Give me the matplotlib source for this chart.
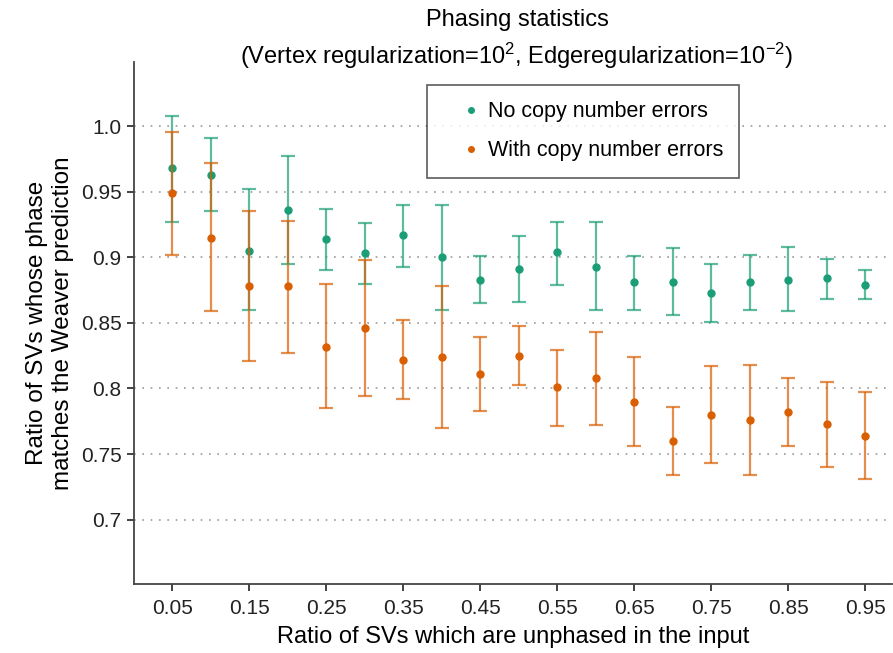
import numpy as np
import matplotlib
matplotlib.use("Agg")
import matplotlib.pyplot as plt

plt.rcParams['font.family'] = ['Liberation Sans', 'DejaVu Sans']
plt.rcParams['mathtext.default'] = 'regular'

# data
ratios = [0.05, 0.10, 0.15, 0.20, 0.25, 0.30, 0.35, 0.40, 0.45, 0.50,
          0.55, 0.60, 0.65, 0.70, 0.75, 0.80, 0.85, 0.90, 0.95]

no_err_mean = [0.968, 0.963, 0.905, 0.936, 0.914, 0.903, 0.917, 0.900, 0.883, 0.891,
               0.904, 0.893, 0.881, 0.881, 0.873, 0.881, 0.883, 0.884, 0.879]
no_err_low = [0.927, 0.935, 0.860, 0.895, 0.890, 0.880, 0.893, 0.860, 0.865, 0.866,
              0.879, 0.860, 0.860, 0.856, 0.851, 0.860, 0.859, 0.868, 0.868]
no_err_high = [1.008, 0.991, 0.952, 0.977, 0.937, 0.926, 0.940, 0.940, 0.901, 0.916,
               0.927, 0.927, 0.901, 0.907, 0.895, 0.902, 0.908, 0.899, 0.890]

cn_err_mean = [0.949, 0.915, 0.878, 0.878, 0.832, 0.846, 0.822, 0.824, 0.811, 0.825,
               0.801, 0.808, 0.790, 0.760, 0.780, 0.776, 0.782, 0.773, 0.764]
cn_err_low = [0.902, 0.859, 0.821, 0.827, 0.785, 0.794, 0.792, 0.770, 0.783, 0.803,
              0.771, 0.772, 0.756, 0.734, 0.743, 0.734, 0.756, 0.740, 0.731]
cn_err_high = [0.996, 0.972, 0.935, 0.928, 0.880, 0.898, 0.852, 0.878, 0.839, 0.848,
               0.829, 0.843, 0.824, 0.786, 0.817, 0.818, 0.808, 0.805, 0.797]

x_ticks = [0.05, 0.15, 0.25, 0.35, 0.45, 0.55, 0.65, 0.75, 0.85, 0.95]
y_ticks = [0.7, 0.75, 0.8, 0.85, 0.9, 0.95, 1.0]
y_tick_labels = ["0.7", "0.75", "0.8", "0.85", "0.9", "0.95", "1.0"]

green = "#1b9e77"
orange = "#d95f02"

fig = plt.figure(figsize=(8.93, 6.53), dpi=100)
ax = fig.add_axes([0.150, 0.106, 0.849, 0.799])

for ys in y_ticks:
    ax.axhline(ys, color="#999999", lw=1.2, ls=(0, (1, 4)), zorder=0)

def draw(mean, low, high, color, label):
    mean = np.array(mean)
    yerr = [mean - np.array(low), np.array(high) - mean]
    ax.errorbar(ratios, mean, yerr=yerr, fmt="none", ecolor=color, elinewidth=1.6,
                capsize=5, capthick=1.6, alpha=0.7)
    ax.plot(ratios, mean, "o", color=color, markersize=5, label=label, ls="none")

draw(no_err_mean, no_err_low, no_err_high, green, "No copy number errors")
draw(cn_err_mean, cn_err_low, cn_err_high, orange, "With copy number errors")

ax.set_xlim(0.0, 0.985)
ax.set_ylim(0.651, 1.049)
ax.set_xticks(x_ticks)
ax.set_xticklabels([f"{v:.2f}" for v in x_ticks])
ax.set_yticks(y_ticks)
ax.set_yticklabels(y_tick_labels)
ax.tick_params(labelsize=15, colors="#222222", length=5, width=1.2, pad=4)
ax.tick_params(axis="x", pad=6)

for s in ["top", "right"]:
    ax.spines[s].set_visible(False)
for s in ["left", "bottom"]:
    ax.spines[s].set_linewidth(1.3)
    ax.spines[s].set_color("#444444")

ax.set_xlabel("Ratio of SVs which are unphased in the input", fontsize=17, labelpad=6)
ax.set_ylabel("Ratio of SVs whose phase\nmatches the Weaver prediction", fontsize=17.5,
              labelpad=5)

fig.text(0.579, 0.969, "Phasing statistics", ha="center", va="center", fontsize=17)
fig.text(0.579, 0.914, "(Vertex regularization=$10^2$, Edgeregularization=$10^{-2}$)",
         ha="center", va="center", fontsize=17)

leg = ax.legend(loc="upper left", bbox_to_anchor=(0.386, 0.956), borderaxespad=0,
                fontsize=15.5, frameon=True, fancybox=False, handletextpad=-0.5,
                borderpad=0.75, labelspacing=0.85, markerscale=0.8, handlelength=2.6)
leg.get_frame().set_edgecolor("#333333")
leg.get_frame().set_linewidth(1.2)

fig.savefig("out.png", dpi=100)
